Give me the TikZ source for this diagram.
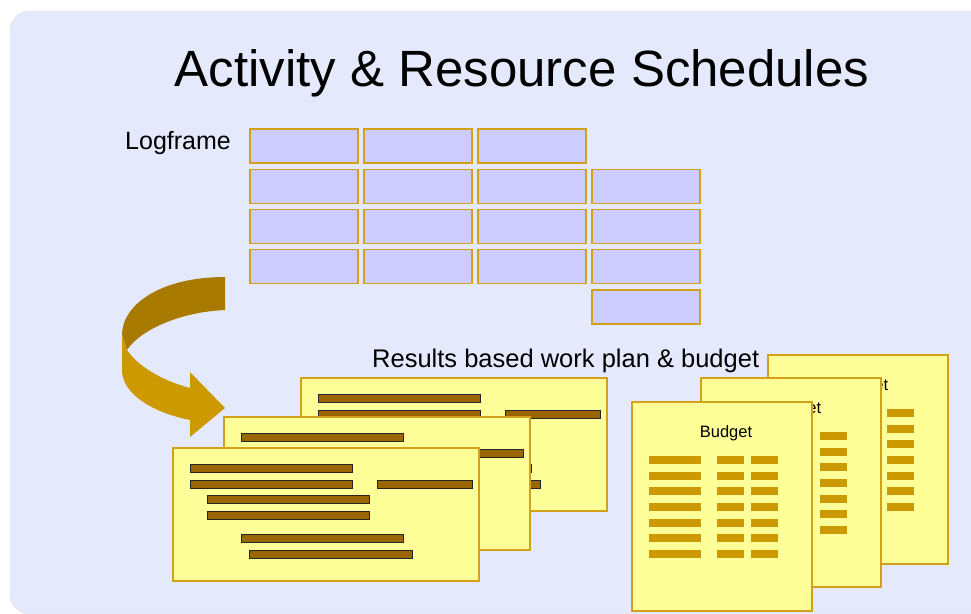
\documentclass[tikz,border=0pt]{standalone}
\usepackage{fontspec}
\setmainfont{Liberation Sans}
\usepackage{tikz}

\definecolor{panel}{RGB}{229,233,252}
\definecolor{cellfill}{RGB}{204,204,255}
\definecolor{goldline}{RGB}{212,160,23}
\definecolor{paper}{RGB}{255,255,153}
\definecolor{brownbar}{RGB}{153,102,0}
\definecolor{goldbar}{RGB}{204,153,0}
\definecolor{arrowback}{RGB}{168,122,0}

\begin{document}
\begin{tikzpicture}[
        x=1pt, y=-1pt,
        cell/.style={rectangle, draw=goldline, fill=cellfill, line width=1.1pt,
                     minimum width=108pt, minimum height=34pt, inner sep=0pt},
        sheet/.style={draw=goldline, fill=paper, line width=1.1pt},
        taskbar/.style={draw=black!85, fill=brownbar, line width=0.8pt},
        costbar/.style={fill=goldbar},
        lbl/.style={inner sep=0pt, anchor=base west}
    ]
    \useasboundingbox (0,0) rectangle (971,613);
    \fill[white] (0,0) rectangle (971,613);
    \begin{scope}
        \clip (0,0) rectangle (971,613);
        \draw[fill=panel, draw=black!12, rounded corners=20pt] (10,11) rectangle (1000,614);
    \end{scope}

    \node[inner sep=0pt, anchor=base, font=\fontsize{51}{61}\selectfont] (title) at (522,86)
        {Activity \& Resource Schedules};
    \node[lbl, font=\fontsize{25}{30}\selectfont] (logframe) at (125,149) {Logframe};

    % logframe grid
    \foreach \r/\c in {0/0,0/1,0/2,
                       1/0,1/1,1/2,1/3,
                       2/0,2/1,2/2,2/3,
                       3/0,3/1,3/2,3/3,
                       4/3}
        \node[cell] (lf\r\c) at ({304+114*\c},{146+40.25*\r}) {};

    % curved arrow
    \fill[arrowback] (225,277) .. controls (160,277) and (122,305) .. (122,335)
        -- (127,350) .. controls (140,330) and (180,312) .. (225,310) -- cycle;
    \fill[goldbar] (122,335) -- (122,370) .. controls (122,395) and (155,413) .. (190,420)
        -- (190,437) -- (225,408) -- (190,372) -- (190,388)
        .. controls (160,380) and (137,365) .. (127,350) -- cycle;

    \node[lbl, font=\fontsize{25.5}{30}\selectfont] (plan) at (372,367)
        {Results based work plan \& budget};

    % work plan sheets
    \foreach \dx/\dy in {128/-70, 51/-31, 0/0} {
        \begin{scope}[shift={(\dx,\dy)}]
            \draw[sheet] (173,448) rectangle (479,581);
            \foreach \xa/\xb/\yy in {190/352/464, 190/352/480, 377/472/480,
                                     207/369/495, 207/369/511,
                                     241/403/534, 249/412/550}
                \draw[taskbar] (\xa,\yy) rectangle (\xb,{\yy+8});
        \end{scope}
    }

    % budget sheets
    \foreach \dx/\dy in {136/-47, 69/-24, 0/0} {
        \begin{scope}[shift={(\dx,\dy)}]
            \draw[sheet] (632,402) rectangle (812,611);
            \node[inner sep=0pt, anchor=base, font=\fontsize{16.5}{20}\selectfont]
                (budget\dx) at (726,437) {Budget};
            \foreach \r in {0,...,6} {
                \fill[costbar] (649,{456+15.67*\r}) rectangle +(52,8);
                \fill[costbar] (717,{456+15.67*\r}) rectangle +(27,8);
                \fill[costbar] (751,{456+15.67*\r}) rectangle +(27,8);
            }
        \end{scope}
    }
\end{tikzpicture}
\end{document}
